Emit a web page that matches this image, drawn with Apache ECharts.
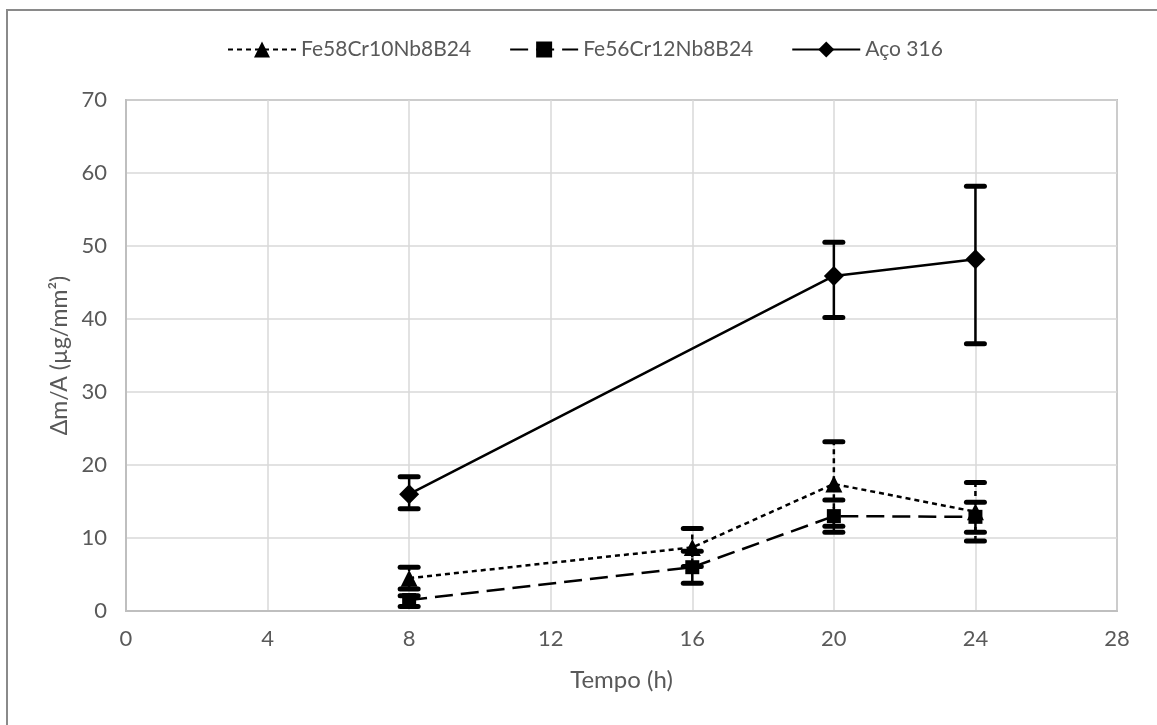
<!DOCTYPE html>
<html>
<head>
<meta charset="utf-8">
<script src="https://cdn.jsdelivr.net/npm/echarts@6/dist/echarts.min.js"></script>
<style>
html,body{margin:0;padding:0;background:#fff;}
#main{width:1157px;height:725px;}
</style>
</head>
<body>
<div id="main"></div>
<script>
// ---- data ----
const seriesNames = ['Fe58Cr10Nb8B24', 'Fe56Cr12Nb8B24', 'Aço 316'];
const xTicks = [0, 4, 8, 12, 16, 20, 24, 28];
const yTicks = [0, 10, 20, 30, 40, 50, 60, 70];

const fe58Times = [8, 16, 20, 24];
const fe58Vals = [4.5, 8.7, 17.4, 13.6];
const fe58ErrUp = [1.5, 2.6, 5.8, 4.0];
const fe58ErrDown = [1.5, 2.6, 5.8, 4.0];

const fe56Times = [8, 16, 20, 24];
const fe56Vals = [1.5, 6.0, 13.0, 12.9];
const fe56ErrUp = [0.6, 2.2, 2.2, 2.0];
const fe56ErrDown = [0.9, 2.2, 2.2, 2.1];

const acoTimes = [8, 20, 24];
const acoVals = [16.0, 45.9, 48.2];
const acoErrUp = [2.4, 4.6, 10.0];
const acoErrDown = [2.0, 5.7, 11.6];

// ---- helpers ----
function pts(t, v) { return t.map((x, i) => [x, v[i]]); }
function errData(t, v, up, dn) { return t.map((x, i) => [x, v[i] - dn[i], v[i] + up[i]]); }

function errSeries(name, data, dash) {
  return {
    type: 'custom',
    name: name,
    data: data,
    z: 3,
    silent: true,
    encode: { x: 0, y: [1, 2] },
    renderItem: function (params, api) {
      const x = api.value(0);
      const lo = api.coord([x, api.value(1)]);
      const hi = api.coord([x, api.value(2)]);
      const cw = 9;
      const st = { stroke: '#000', lineWidth: 2.5, lineDash: dash };
      const cap = { stroke: '#000', lineWidth: 5, lineCap: 'round' };
      return {
        type: 'group',
        children: [
          { type: 'line', shape: { x1: lo[0], y1: lo[1], x2: hi[0], y2: hi[1] }, style: st },
          { type: 'line', shape: { x1: hi[0] - cw, y1: hi[1], x2: hi[0] + cw, y2: hi[1] }, style: cap },
          { type: 'line', shape: { x1: lo[0] - cw, y1: lo[1], x2: lo[0] + cw, y2: lo[1] }, style: cap }
        ]
      };
    }
  };
}

const FONT = 'Lato';
const TXT = '#595959';

const chart = echarts.init(document.getElementById('main'), null, { renderer: 'canvas' });
chart.setOption({
  backgroundColor: '#fff',
  animation: false,
  textStyle: { fontFamily: FONT },
  graphic: [
    { type: 'rect', shape: { x: 7, y: 10, width: 1200, height: 800 },
      style: { fill: 'none', stroke: '#8a8a8a', lineWidth: 2 }, z: -1 }
  ],
  legend: {
    top: 34,
    left: 222,
    itemGap: 38,
    itemWidth: 68,
    itemHeight: 20,
    data: seriesNames,
    textStyle: { color: TXT, fontSize: 21, fontFamily: FONT }
  },
  grid: {
    left: 126, right: 40, top: 100, bottom: 114,
    show: true, borderColor: '#8c8c8c', borderWidth: 1.5, backgroundColor: '#fff'
  },
  xAxis: {
    type: 'value',
    min: xTicks[0], max: xTicks[xTicks.length - 1], interval: 4,
    name: 'Tempo (h)', nameLocation: 'middle', nameGap: 57,
    nameTextStyle: { color: TXT, fontSize: 24, fontFamily: FONT },
    axisLine: { show: true, lineStyle: { color: '#bfbfbf', width: 2 } },
    axisTick: { show: false },
    axisLabel: { color: TXT, fontSize: 22, margin: 17, fontFamily: FONT },
    splitLine: { show: true, lineStyle: { color: '#d9d9d9', width: 1.5 } }
  },
  yAxis: {
    type: 'value',
    min: yTicks[0], max: yTicks[yTicks.length - 1], interval: 10,
    name: 'Δm/A (µg/mm²)', nameLocation: 'middle', nameGap: 55,
    nameTextStyle: { color: TXT, fontSize: 23, fontFamily: FONT },
    axisLine: { show: true, lineStyle: { color: '#bfbfbf', width: 2 } },
    axisTick: { show: false },
    axisLabel: { color: TXT, fontSize: 22, margin: 19, fontFamily: FONT },
    splitLine: { show: true, lineStyle: { color: '#d9d9d9', width: 1.5 } }
  },
  series: [
    {
      name: seriesNames[0], type: 'line', data: pts(fe58Times, fe58Vals),
      symbol: 'triangle', symbolSize: 17, z: 5,
      lineStyle: { color: '#000', width: 2.5, type: [5, 4] },
      itemStyle: { color: '#000' }
    },
    {
      name: seriesNames[1], type: 'line', data: pts(fe56Times, fe56Vals),
      symbol: 'rect', symbolSize: 14, z: 5,
      lineStyle: { color: '#000', width: 2.5, type: [18, 8] },
      itemStyle: { color: '#000' }
    },
    {
      name: seriesNames[2], type: 'line', data: pts(acoTimes, acoVals),
      symbol: 'diamond', symbolSize: 20, z: 5,
      lineStyle: { color: '#000', width: 2.5, type: 'solid' },
      itemStyle: { color: '#000' }
    },
    errSeries(seriesNames[0], errData(fe58Times, fe58Vals, fe58ErrUp, fe58ErrDown), [5, 4]),
    errSeries(seriesNames[1], errData(fe56Times, fe56Vals, fe56ErrUp, fe56ErrDown), [10, 5]),
    errSeries(seriesNames[2], errData(acoTimes, acoVals, acoErrUp, acoErrDown), null)
  ]
});
</script>
</body>
</html>
